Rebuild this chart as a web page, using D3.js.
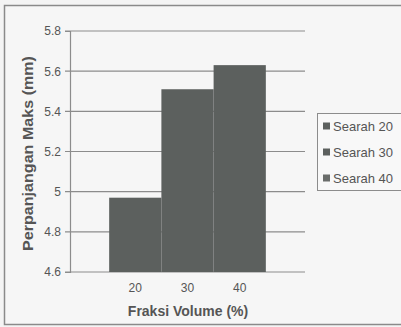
<!DOCTYPE html>
<html>
<head>
<script src="https://d3js.org/d3.v7.min.js"></script>
<style>
  body { margin: 0; background: #fff; }
  svg { display: block; }
  .tick text { font-family: Arial, "Liberation Sans", sans-serif; font-size: 12px; fill: #555; }
  .title { font-family: Arial, "Liberation Sans", sans-serif; font-size: 14px; font-weight: bold; fill: #555; }
  .legend text { font-family: Arial, "Liberation Sans", sans-serif; font-size: 13px; fill: #555; }
</style>
</head>
<body>
<div id="chart"></div>
<script>
  // values
  const categories = ["20", "30", "40"];
  const values = [4.97, 5.51, 5.63];
  const seriesNames = ["Searah 20", "Searah 30", "Searah 40"];
  const yTicks = [4.6, 4.8, 5, 5.2, 5.4, 5.6, 5.8];

  const width = 401, height = 327;
  const plot = {left: 70, right: 305, top: 31, bottom: 272};
  const barColor = "#5c605e";

  const svg = d3.select("#chart").append("svg")
    .attr("width", width)
    .attr("height", height);

  // page background + outer frame
  svg.append("rect").attr("width", width).attr("height", height).attr("fill", "#f4f4f4");
  svg.append("rect")
    .attr("x", 4.5).attr("y", 5.5)
    .attr("width", width).attr("height", 319)
    .attr("fill", "#f6f6f6").attr("stroke", "#8a8a8a").attr("stroke-width", 1.5);

  const x = d3.scaleBand()
    .domain(categories)
    .range([plot.left, plot.right])
    .paddingInner(0)
    .paddingOuter(0.75);

  const y = d3.scaleLinear()
    .domain([4.6, 5.8])
    .range([plot.bottom, plot.top]);

  // gridlines
  svg.append("g")
    .selectAll("line")
    .data(yTicks)
    .join("line")
    .attr("x1", plot.left - 5)
    .attr("x2", plot.right)
    .attr("y1", d => y(d))
    .attr("y2", d => y(d))
    .attr("stroke", "#8c8c8c")
    .attr("stroke-width", 1.2);

  // bars
  svg.append("g")
    .selectAll("rect")
    .data(values)
    .join("rect")
    .attr("x", (d, i) => x(categories[i]))
    .attr("width", x.bandwidth())
    .attr("y", d => y(d))
    .attr("height", d => y(4.6) - y(d))
    .attr("fill", barColor);

  // y axis
  const yAxis = svg.append("g")
    .attr("transform", `translate(${plot.left},0)`)
    .call(d3.axisLeft(y).tickValues(yTicks).tickSize(5).tickPadding(4).tickFormat(d3.format("")));
  yAxis.select(".domain").attr("stroke", "#8c8c8c").attr("stroke-width", 1.2);
  yAxis.selectAll(".tick line").remove();

  // x axis
  const xAxis = svg.append("g")
    .attr("transform", `translate(0,${plot.bottom})`)
    .call(d3.axisBottom(x).tickSize(0).tickPadding(11));
  xAxis.select(".domain").remove();

  // axis titles
  svg.append("text")
    .attr("class", "title")
    .attr("transform", `translate(33,${(plot.top + plot.bottom) / 2 + 2}) rotate(-90) scale(1.15,1)`)
    .attr("text-anchor", "middle")
    .text("Perpanjangan Maks (mm)");

  svg.append("text")
    .attr("class", "title")
    .attr("x", 188)
    .attr("y", 316)
    .attr("text-anchor", "middle")
    .text("Fraksi Volume (%)");

  // legend
  const legend = svg.append("g").attr("class", "legend");
  legend.append("rect")
    .attr("x", 317.5).attr("y", 113.5)
    .attr("width", 100).attr("height", 77)
    .attr("fill", "#f8f8f8").attr("stroke", "#8c8c8c");

  const legendY = d3.scalePoint()
    .domain(seriesNames)
    .range([126, 178]);

  const item = legend.selectAll("g")
    .data(seriesNames)
    .join("g")
    .attr("transform", d => `translate(323,${legendY(d)})`);

  item.append("rect")
    .attr("x", 0).attr("y", -3.5)
    .attr("width", 7).attr("height", 7)
    .attr("fill", (d, i) => i === 2 ? "#6a6d6b" : barColor);

  item.append("text")
    .attr("x", 10)
    .attr("dy", "0.35em")
    .text(d => d);
</script>
</body>
</html>
